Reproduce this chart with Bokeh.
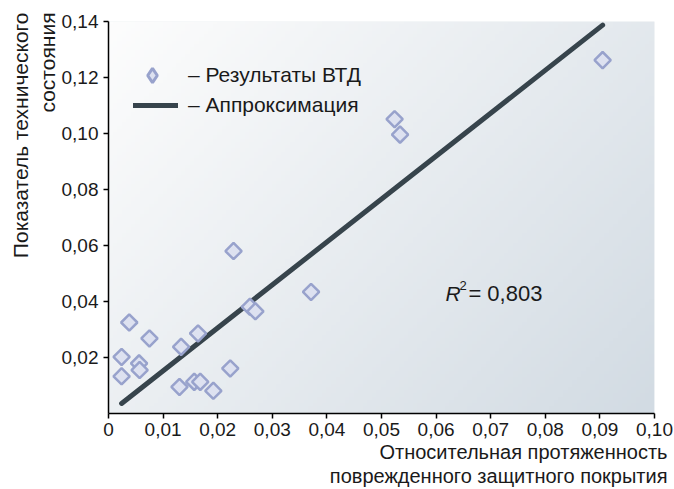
import numpy as np
from bokeh.plotting import figure
from bokeh.models import Range1d, FixedTicker, Legend, LegendItem, Label, Title
from bokeh.embed import file_html
from bokeh.resources import INLINE

# ---- data ----
x_vtd = [0.0024, 0.0024, 0.0038, 0.0056, 0.0057, 0.0075, 0.0130, 0.0133, 0.0157, 0.0164,
         0.0168, 0.0192, 0.0223, 0.0229, 0.0259, 0.0269, 0.0371, 0.0524, 0.0534, 0.0905]
y_vtd = [0.0202, 0.0133, 0.0325, 0.0179, 0.0155, 0.0268, 0.0095, 0.0238, 0.0113, 0.0286,
         0.0113, 0.0081, 0.0161, 0.0580, 0.0381, 0.0365, 0.0434, 0.1051, 0.0996, 0.1262]
fit_x = [0.0024, 0.0905]
fit_y = [0.0036, 0.1387]
r2_text = "0,803"

x_ticks = [0.0, 0.01, 0.02, 0.03, 0.04, 0.05, 0.06, 0.07, 0.08, 0.09, 0.10]
x_tick_labels = ["0", "0,01", "0,02", "0,03", "0,04", "0,05", "0,06", "0,07", "0,08", "0,09", "0,10"]
y_ticks = [0.02, 0.04, 0.06, 0.08, 0.10, 0.12, 0.14]
y_tick_labels = ["0,02", "0,04", "0,06", "0,08", "0,10", "0,12", "0,14"]

legend_points = "– Результаты ВТД"
legend_line = "– Аппроксимация"
x_title = ["Относительная протяженность", "поврежденного защитного покрытия"]
y_title = ["Показатель технического", "состояния"]

FONT = "Liberation Sans"
TXT = "#1a1a1a"

p = figure(width=674, height=489, output_backend="svg", toolbar_location=None,
           x_range=Range1d(0, 0.1), y_range=Range1d(0, 0.14),
           min_border_left=108, min_border_right=20, min_border_top=21, min_border_bottom=76)
p.outline_line_color = None
p.grid.visible = False
p.background_fill_color = "#eef1f3"
p.border_fill_color = "white"

# background gradient (decoration)
n = 120
u = np.linspace(0, 1, n)[None, :]
v = np.linspace(0, 1, n)[:, None]
t = np.clip(0.6 * u + 0.4 * (1 - v), 0, 1)
c0 = np.array([253, 253, 253])
c1 = np.array([210, 219, 227])
img = np.empty((n, n), dtype=np.uint32)
view = img.view(dtype=np.uint8).reshape((n, n, 4))
for k in range(3):
    view[:, :, k] = (c0[k] * (1 - t) + c1[k] * t).astype(np.uint8)
view[:, :, 3] = 255
p.image_rgba(image=[img], x=0, y=0, dw=0.1, dh=0.14, level="underlay")

MK_FILL, MK_LINE = "#dde1f0", "#98a2cc"
LINE_COL = "#37444c"

# fit line
line_r = p.line(fit_x, fit_y, line_color=LINE_COL, line_width=5, line_cap="round")
# points (diamonds = squares turned by 45 degrees)
pts_r = p.scatter(x_vtd, y_vtd, marker="square", angle=np.pi / 4, size=11.5,
                  fill_color=MK_FILL, line_color=MK_LINE, line_width=2.5)
# hidden twin used only for the legend sample (legend glyphs are never rotated)
leg_pts = p.scatter(x_vtd, y_vtd, marker="diamond", size=14, visible=False,
                    fill_color=MK_FILL, line_color=MK_LINE, line_width=3)

# axes
for ax in (p.xaxis[0], p.yaxis[0]):
    ax.axis_line_color = "black"
    ax.axis_line_width = 1.5
    ax.major_tick_line_color = "black"
    ax.major_tick_line_width = 1.5
    ax.major_tick_out = 5
    ax.major_tick_in = 0
    ax.minor_tick_line_color = None
    ax.major_label_text_font = FONT
    ax.major_label_text_font_size = "19px"
    ax.major_label_text_color = TXT
    ax.major_label_standoff = 5

p.xaxis[0].ticker = FixedTicker(ticks=x_ticks)
p.xaxis[0].major_label_overrides = {tk: lb for tk, lb in zip(x_ticks, x_tick_labels)}
p.xaxis[0].major_label_standoff = 4
p.yaxis[0].ticker = FixedTicker(ticks=y_ticks)
p.yaxis[0].major_label_overrides = {tk: lb for tk, lb in zip(y_ticks, y_tick_labels)}

# axis titles (stacked outward from the axis)
for txt in x_title:
    p.add_layout(Title(text=txt, align="right", text_font=FONT, text_font_size="20px",
                       text_font_style="normal", text_color=TXT, standoff=0,
                       offset=-13), "below")
for i, txt in enumerate(reversed(y_title)):
    p.add_layout(Title(text=txt, align="right", text_font=FONT, text_font_size="21px",
                       text_font_style="normal", text_color=TXT, standoff=3 * i,
                       offset=-9), "left")

# legends
leg1 = Legend(items=[LegendItem(label=legend_points, renderers=[leg_pts])],
              location=(25, 320), glyph_width=38, glyph_height=36, label_height=36,
              padding=0, margin=0, label_standoff=17,
              label_text_font=FONT, label_text_font_size="21px", label_text_color=TXT,
              background_fill_alpha=0, border_line_color=None)
leg2 = Legend(items=[LegendItem(label=legend_line, renderers=[line_r])],
              location=(25, 296), glyph_width=45, glyph_height=20, label_height=20,
              padding=0, margin=0, label_standoff=10,
              label_text_font=FONT, label_text_font_size="21px", label_text_color=TXT,
              background_fill_alpha=0, border_line_color=None)
p.add_layout(leg1)
p.add_layout(leg2)

# R^2 annotation
r2_x, r2_y = 0.0617, 0.0429
p.add_layout(Label(x=r2_x, y=r2_y, text="R", text_font=FONT, text_font_size="21px",
                   text_font_style="italic", text_baseline="middle", text_color=TXT))
p.add_layout(Label(x=r2_x, y=r2_y, x_offset=14, y_offset=8, text="2", text_font=FONT,
                   text_font_size="13px", text_baseline="middle", text_color=TXT))
p.add_layout(Label(x=r2_x, y=r2_y, x_offset=23, text="= " + r2_text, text_font=FONT,
                   text_font_size="22px", text_baseline="middle", text_color=TXT))

open("out.html", "w").write(file_html(p, INLINE))
